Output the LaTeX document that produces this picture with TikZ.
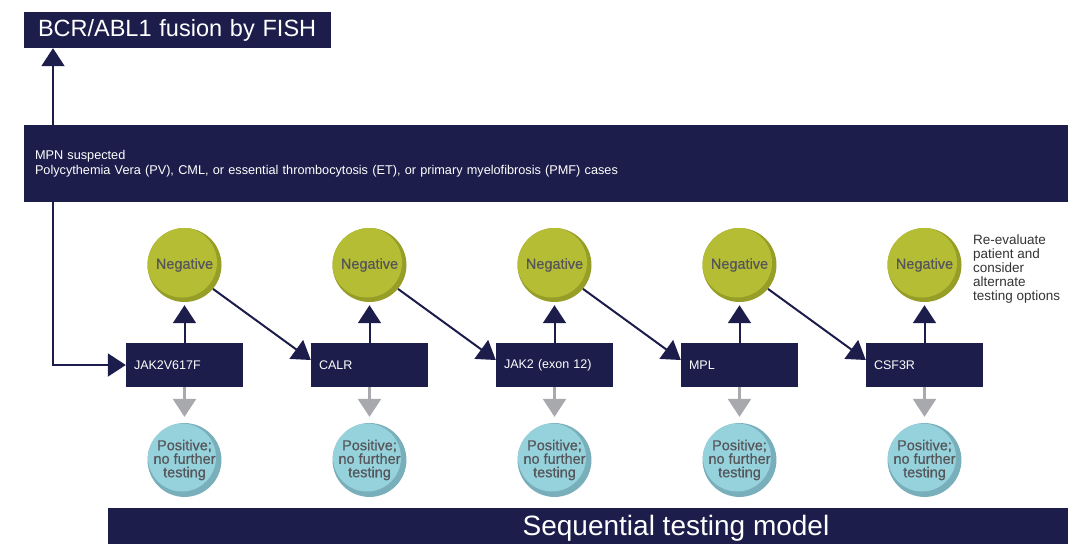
\documentclass[tikz,border=0pt]{standalone}
\usepackage{fontspec}
\setmainfont{Liberation Sans}
\newfontfamily\medfont[FakeBold=0.5]{Liberation Sans}
\usetikzlibrary{arrows.meta}
\definecolor{navy}{RGB}{29,29,76}
\definecolor{negc}{RGB}{181,189,52}
\definecolor{negd}{RGB}{150,158,40}
\definecolor{posc}{RGB}{150,210,220}
\definecolor{posd}{RGB}{120,175,186}
\definecolor{txtg}{RGB}{85,85,90}
\definecolor{arrg}{RGB}{167,169,172}
\tikzset{
  navybox/.style={fill=navy, text=white, inner sep=0pt, align=left},
  testbox/.style={navybox, minimum width=117pt, minimum height=44pt, text width=101pt, font=\fontsize{12.5}{14}\selectfont},
  negcirc/.style={circle, minimum size=74pt, inner sep=0pt, fill=negd, text=txtg, align=center,
    font=\medfont\fontsize{14.5}{15}\selectfont,
    path picture={\fill[negc] ([xshift=-2.5pt,yshift=2.5pt]path picture bounding box.center) circle (35pt);}},
  poscirc/.style={circle, minimum size=72pt, inner sep=0pt, fill=posd, text=txtg, align=center,
    font=\medfont\fontsize{14.5}{13.5}\selectfont,
    path picture={\fill[posc] ([xshift=-2.5pt,yshift=2.5pt]path picture bounding box.center) circle (34pt);}},
  navyarrow/.style={draw=navy, line width=2pt, -{Triangle[length=18pt,width=23pt]}},
  grayarrow/.style={draw=arrg, line width=2.5pt, -{Triangle[length=18pt,width=23pt]}},
}
\begin{document}
\begin{tikzpicture}[x=1pt,y=-1pt]
\useasboundingbox (0,0) rectangle (1068,544);
\node[navybox, minimum width=307pt, minimum height=36pt, text width=279pt, font=\fontsize{23.5}{25}\selectfont] (title) at (177.5,30) {BCR/ABL1 fusion by FISH};
\node[navybox, minimum width=1044pt, minimum height=77pt, text width=1022pt, font=\fontsize{12.7}{15.5}\selectfont] (mpn) at (546,163.5) {MPN suspected\\Polycythemia Vera (PV), CML, or essential thrombocytosis (ET), or primary myelofibrosis (PMF) cases};
\node[navybox, minimum width=960pt, minimum height=36pt] (seq) at (588,526) {};
\node[text=white, font=\fontsize{28}{30}\selectfont, inner sep=0pt] (seqt) at (676,528) {Sequential testing model};
\coordinate (lx) at (53,0);
\foreach \i/\lab in {1/JAK2V617F,2/CALR,3/JAK2 (exon 12),4/MPL,5/CSF3R}{
  \pgfmathsetmacro{\cx}{184.5+185*(\i-1)}
  \node[testbox] (t\i) at (\cx,365) {\lab};
  \node[negcirc] (n\i) at (\cx,265) {Negative};
  \node[poscirc] (p\i) at (\cx,460) {Positive;\\no further\\testing};
  \draw[navyarrow, shorten >=3pt] (t\i.north) -- (n\i.south);
  \draw[grayarrow, shorten >=6pt] (t\i.south) -- (p\i.north);
}
\foreach \i/\j in {1/2,2/3,3/4,4/5}{
  \draw[navyarrow] (n\i.-40) -- ([yshift=5pt]t\j.west);
}
\draw[navyarrow] (mpn.north -| lx) -- (title.south -| lx);
\draw[navyarrow] (mpn.south -| lx) |- (t1.west);
\node[anchor=north west, align=left, text=black!80, inner sep=0pt, font=\fontsize{13.5}{13.8}\selectfont] (note) at (973,235) {Re-evaluate\\patient and\\consider\\alternate\\testing options};
\end{tikzpicture}
\end{document}
